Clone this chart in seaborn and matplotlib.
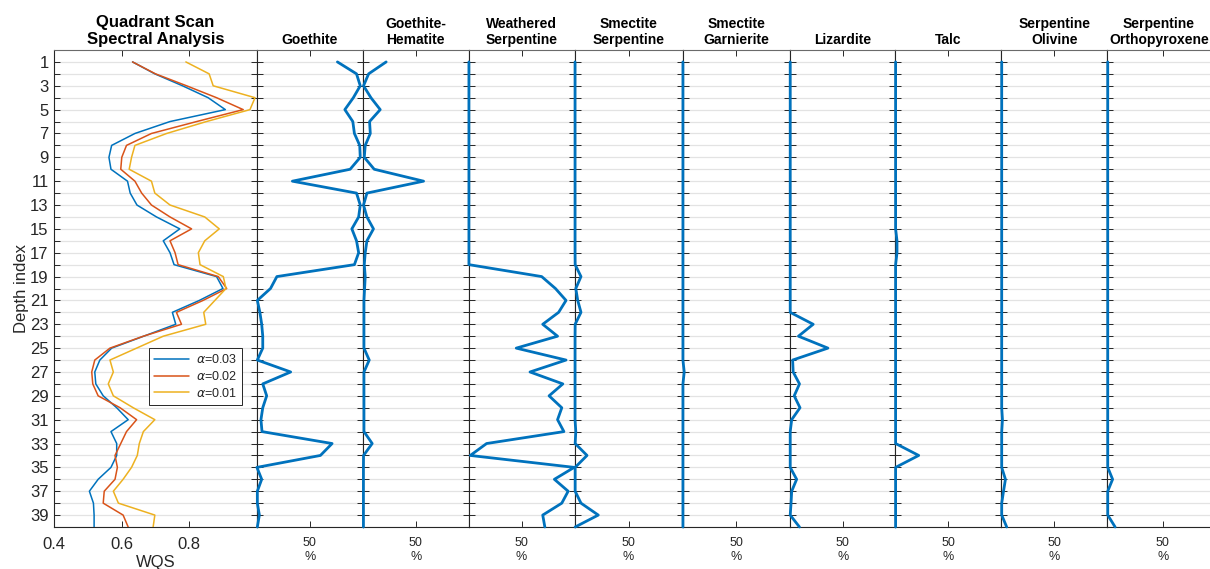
import numpy as np
import pandas as pd
import matplotlib
matplotlib.use("Agg")
import matplotlib.pyplot as plt
from matplotlib.ticker import FixedLocator, NullFormatter
import seaborn as sns

sns.set_theme(style="white")
plt.rcParams['font.family'] = ['Liberation Sans', 'DejaVu Sans']
plt.rcParams['mathtext.fontset'] = 'dejavusans'

# ---------------------------------------------------------------- data
depth = list(range(1, 41))

alpha_labels = [r'$\alpha$=0.03', r'$\alpha$=0.02', r'$\alpha$=0.01']
alpha_colors = ['#0072BD', '#D95319', '#EDB120']

wqs_a003 = [0.632, 0.698, 0.780, 0.856, 0.907, 0.743, 0.639, 0.570, 0.562, 0.568,
            0.617, 0.625, 0.645, 0.703, 0.772, 0.723, 0.743, 0.755, 0.881, 0.900,
            0.830, 0.750, 0.760, 0.665, 0.570, 0.535, 0.520, 0.523, 0.545, 0.585,
            0.619, 0.568, 0.585, 0.585, 0.568, 0.530, 0.504, 0.516, 0.518, 0.518]
wqs_a002 = [0.632, 0.700, 0.792, 0.881, 0.960, 0.822, 0.688, 0.614, 0.600, 0.597,
            0.639, 0.659, 0.688, 0.743, 0.807, 0.743, 0.758, 0.767, 0.886, 0.911,
            0.841, 0.762, 0.777, 0.664, 0.565, 0.520, 0.511, 0.514, 0.530, 0.595,
            0.644, 0.614, 0.597, 0.580, 0.587, 0.580, 0.548, 0.545, 0.604, 0.619]
wqs_a001 = [0.790, 0.859, 0.871, 0.995, 0.980, 0.851, 0.733, 0.639, 0.629, 0.622,
            0.688, 0.698, 0.743, 0.846, 0.889, 0.846, 0.827, 0.832, 0.901, 0.909,
            0.876, 0.843, 0.849, 0.723, 0.644, 0.565, 0.575, 0.560, 0.575, 0.634,
            0.698, 0.664, 0.652, 0.646, 0.629, 0.604, 0.575, 0.590, 0.698, 0.693]

mineral_names = ["Goethite", "Goethite-\nHematite", "Weathered\nSerpentine",
                 "Smectite\nSerpentine", "Smectite\nGarnierite", "Lizardite",
                 "Talc", "Serpentine\nOlivine", "Serpentine\nOrthopyroxene"]

goethite = [76, 94, 97.5, 91, 83, 90.5, 92, 97, 97.5, 88,
            33.6, 94, 97.5, 96, 89.6, 94, 96, 92, 19, 13,
            0.6, 3, 4.7, 5.7, 5.7, 0.6, 32, 5.7, 9.4, 5.7,
            4, 5, 71, 60, 0.2, 4.7, 0.6, 0.6, 2.5, 0.6]
goethite_hematite = [22, 5.4, 0.6, 7.6, 16.4, 6.3, 7, 2.2, 1.3, 10.7,
                     57.4, 3.8, 0.6, 3.8, 10, 3.8, 2.2, 1.3, 2.2, 1.6,
                     1, 1, 1, 1, 1, 6, 1, 1, 1, 1,
                     1, 1, 8.8, 0.6, 0.5, 0.5, 0.5, 0.5, 0.5, 0.5]
weathered_serpentine = [0.3, 0.3, 0.3, 0.3, 0.3, 0.3, 0.3, 0.3, 0.3, 0.3,
                        0.3, 0.3, 0.3, 0.3, 0.3, 0.3, 0.3, 0.3, 69, 82,
                        92, 85, 70, 84, 45, 92, 58, 89, 76, 88,
                        84, 90, 17, 1.6, 99.7, 81, 94, 88, 70, 72]
smectite_serpentine = [0.5, 0.5, 0.5, 0.5, 0.5, 0.5, 0.5, 0.5, 0.5, 0.5,
                       0.5, 0.5, 0.5, 0.5, 0.5, 0.5, 0.5, 0.6, 6, 1.2,
                       3, 6, 0.6, 0.5, 0.5, 0.5, 0.5, 0.5, 0.5, 0.5,
                       0.5, 1.2, 0.6, 11.6, 0.6, 0.6, 0.6, 6, 22, 0.6]
smectite_garnierite = [0.3, 0.3, 0.3, 0.3, 0.3, 0.3, 0.3, 0.3, 0.3, 0.3,
                       0.3, 0.3, 0.3, 0.3, 0.3, 0.3, 0.3, 0.3, 0.3, 0.3,
                       0.3, 0.3, 0.3, 0.3, 0.3, 0.3, 1.5, 0.3, 0.3, 0.3,
                       0.3, 0.3, 0.3, 0.3, 0.3, 0.3, 0.3, 0.3, 0.3, 0.3]
lizardite = [0.2, 0.2, 0.2, 0.2, 0.2, 0.2, 0.2, 0.2, 0.2, 0.2,
             0.2, 0.2, 0.2, 0.2, 0.2, 0.2, 0.2, 0.2, 0.2, 0.2,
             0.2, 0.2, 22, 8, 36, 2.5, 3, 9, 4, 9.5,
             1.6, 0.2, 0.2, 0.2, 0.2, 6.3, 1.6, 1, 0.2, 9]
talc = [0.2, 0.2, 0.2, 0.2, 0.2, 0.2, 0.2, 0.2, 0.2, 0.2,
        0.2, 0.2, 0.2, 0.2, 0.2, 1.5, 1.5, 0.2, 0.2, 0.2,
        0.2, 0.2, 0.2, 0.2, 0.2, 0.2, 0.2, 0.2, 0.2, 0.2,
        0.2, 0.2, 0.2, 22, 0.2, 0.2, 0.2, 0.2, 0.2, 0.2]
serpentine_olivine = [0.3, 0.3, 0.3, 0.3, 0.3, 0.3, 0.3, 0.3, 0.3, 0.3,
                      0.3, 0.3, 0.3, 0.3, 0.3, 0.3, 0.3, 0.3, 0.3, 0.3,
                      0.3, 0.3, 0.3, 0.3, 0.3, 0.3, 0.3, 0.3, 0.3, 0.3,
                      1.0, 0.3, 0.3, 0.3, 0.3, 3.8, 2.0, 0.3, 0.3, 5]
serpentine_orthopyroxene = [0.3, 0.3, 0.3, 0.3, 0.3, 0.3, 0.3, 0.3, 0.3, 0.3,
                            0.3, 0.3, 0.3, 0.3, 0.3, 0.3, 0.3, 0.3, 0.3, 0.3,
                            0.3, 0.3, 0.3, 0.3, 0.3, 0.3, 0.3, 0.3, 0.3, 0.3,
                            0.3, 0.3, 0.3, 0.3, 0.3, 4.7, 0.3, 0.3, 0.3, 7]

mineral_series = [goethite, goethite_hematite, weathered_serpentine,
                  smectite_serpentine, smectite_garnierite, lizardite, talc,
                  serpentine_olivine, serpentine_orthopyroxene]

# ---------------------------------------------------------------- styling
W, H = 1210, 569
AX_COLOR = '#262626'
GRID_COLOR = '#e3e3e3'
LINE_BLUE = '#0072BD'
top_px, bot_px = 50, 527
ax_bottom = 1 - bot_px / H
ax_height = (bot_px - top_px) / H

fig = plt.figure(figsize=(W / 100, H / 100), dpi=100)
fig.patch.set_facecolor('white')


def style_depth_axis(ax, show_labels, label_size):
    ax.set_ylim(40, 0)
    ax.yaxis.set_major_locator(FixedLocator(list(range(1, 40, 2))))
    ax.yaxis.set_minor_locator(FixedLocator(list(range(2, 41, 2))))
    ax.yaxis.set_minor_formatter(NullFormatter())
    ax.grid(axis='y', which='both', color=GRID_COLOR, linewidth=0.9)
    ax.grid(axis='x', visible=False)
    ax.tick_params(axis='y', which='both', direction='in', left=True, right=True,
                   length=4.5, width=0.7, color=AX_COLOR, labelleft=show_labels,
                   labelsize=label_size, labelcolor=AX_COLOR, pad=4)
    ax.tick_params(axis='x', which='both', direction='in', bottom=True, top=True,
                   length=4.5, width=0.7, color=AX_COLOR, labelcolor=AX_COLOR)
    for sp in ax.spines.values():
        sp.set_color(AX_COLOR)
        sp.set_linewidth(0.8)
        sp.set_visible(True)
    ax.spines['top'].set_color('#6a6a6a')
    ax.set_facecolor('white')


# ---- WQS panel
ax0 = fig.add_axes([54.3 / W, ax_bottom, 202.4 / W, ax_height])
wqs_df = pd.DataFrame({
    'Depth': depth * 3,
    'WQS': wqs_a003 + wqs_a002 + wqs_a001,
    'alpha': [alpha_labels[0]] * 40 + [alpha_labels[1]] * 40 + [alpha_labels[2]] * 40,
})
sns.lineplot(data=wqs_df, x='WQS', y='Depth', hue='alpha', hue_order=alpha_labels,
             palette=dict(zip(alpha_labels, alpha_colors)), sort=False,
             estimator=None, orient='y', linewidth=1.1, ax=ax0, zorder=3)
style_depth_axis(ax0, True, 12)
ax0.set_xlim(0.4, 1.0)
ax0.set_xticks([0.4, 0.6, 0.8])
ax0.set_xticklabels(['0.4', '0.6', '0.8'])
ax0.tick_params(axis='x', labelsize=12, pad=7)
ax0.set_xlabel('WQS', fontsize=12, color=AX_COLOR, labelpad=2)
ax0.set_ylabel('Depth index', fontsize=12, color=AX_COLOR, labelpad=1)
ax0.set_title('Quadrant Scan\nSpectral Analysis', fontsize=12, fontweight='bold',
              color='black', pad=4)
leg = ax0.legend(loc='upper right', bbox_to_anchor=(0.927, 0.375), fontsize=9,
                 frameon=True, fancybox=False, framealpha=1, edgecolor=AX_COLOR,
                 handlelength=2.8, labelspacing=0.3, borderpad=0.4,
                 handletextpad=0.5, borderaxespad=0)
leg.get_frame().set_linewidth(0.7)
for t in leg.get_texts():
    t.set_color(AX_COLOR)

# ---- mineral abundance panels (the last one runs past the right edge)
panel_lefts = [256.7, 362.9, 468.6, 574.5, 682.6, 790.0, 895.4, 1001.4, 1107.4]
panel_widths = [106.2, 105.7, 105.9, 108.1, 107.4, 105.4, 106.0, 106.0, 110.6]
for k, (name, vals) in enumerate(zip(mineral_names, mineral_series)):
    ax = fig.add_axes([panel_lefts[k] / W, ax_bottom,
                       panel_widths[k] / W, ax_height])
    sns.lineplot(x=vals, y=depth, sort=False, estimator=None, orient='y',
                 color=LINE_BLUE, linewidth=2.0, ax=ax, zorder=3, clip_on=False)
    style_depth_axis(ax, False, 12)
    ax.set_xlim(0, 100)
    ax.set_xticks([50])
    ax.set_xticklabels(['50'])
    ax.tick_params(axis='x', labelsize=9, pad=7)
    ax.set_xlabel('%', fontsize=9, color=AX_COLOR, labelpad=2)
    ax.set_ylabel('')
    # keep the rightmost title inside the canvas
    title_x = 0.465 if k == len(mineral_names) - 1 else 0.5
    ax.set_title(name, fontsize=10, fontweight='bold', color='black', pad=4,
                 x=title_x)

fig.savefig('out.png', dpi=100, facecolor='white')
